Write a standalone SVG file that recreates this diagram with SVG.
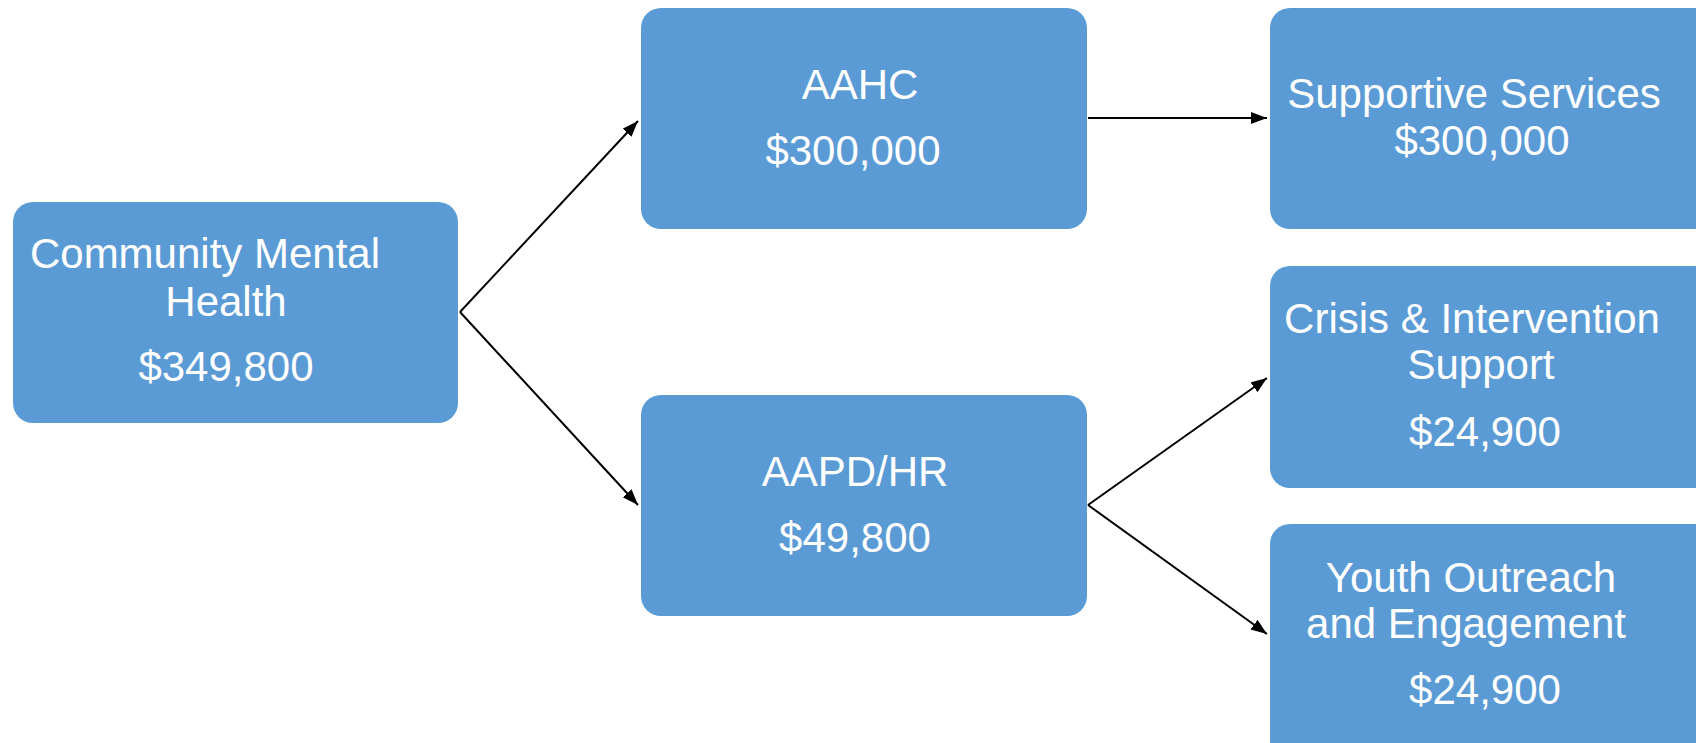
<svg xmlns="http://www.w3.org/2000/svg" width="1696" height="743" viewBox="0 0 1696 743">
<style>
.box{fill:#5B9BD5;}
.t{font-family:"Liberation Sans",Arial,sans-serif;font-size:42px;fill:#ffffff;text-anchor:middle;}
.c{fill:none;stroke:#000000;stroke-width:2;}
</style>
<defs>
<marker id="ah" markerUnits="userSpaceOnUse" markerWidth="18" markerHeight="14" refX="16" refY="6" orient="auto">
<path d="M0,0 L16,6 L0,12 z" fill="#000000"/>
</marker>
</defs>
<rect width="1696" height="743" fill="#ffffff"/>
<g id="connectors">
<path class="c" d="M460,312 L638,121" marker-end="url(#ah)"/>
<path class="c" d="M460,312 L638,505" marker-end="url(#ah)"/>
<path class="c" d="M1088,118 L1267,118" marker-end="url(#ah)"/>
<path class="c" d="M1088,505 L1267,378" marker-end="url(#ah)"/>
<path class="c" d="M1088,505 L1267,634" marker-end="url(#ah)"/>
</g>
<g id="node-cmh">
<rect class="box" x="13" y="202" width="445" height="221" rx="20"/>
<text class="t" x="205" y="268">Community Mental</text>
<text class="t" x="226" y="316">Health</text>
<text class="t" x="226" y="381">$349,800</text>
</g>
<g id="node-aahc">
<rect class="box" x="641" y="8" width="446" height="221" rx="20"/>
<text class="t" x="860" y="99">AAHC</text>
<text class="t" x="853" y="165">$300,000</text>
</g>
<g id="node-aapd">
<rect class="box" x="641" y="395" width="446" height="221" rx="20"/>
<text class="t" x="855" y="486">AAPD/HR</text>
<text class="t" x="855" y="552">$49,800</text>
</g>
<g id="node-supportive">
<rect class="box" x="1270" y="8" width="460" height="221" rx="20"/>
<text class="t" x="1474" y="108">Supportive Services</text>
<text class="t" x="1482" y="155">$300,000</text>
</g>
<g id="node-crisis">
<rect class="box" x="1270" y="266" width="460" height="222" rx="20"/>
<text class="t" x="1472" y="333">Crisis &amp; Intervention</text>
<text class="t" x="1481" y="379">Support</text>
<text class="t" x="1485" y="446">$24,900</text>
</g>
<g id="node-youth">
<rect class="box" x="1270" y="524" width="460" height="240" rx="20"/>
<text class="t" x="1471" y="592">Youth Outreach</text>
<text class="t" x="1466" y="638">and Engagement</text>
<text class="t" x="1485" y="704">$24,900</text>
</g>
</svg>
